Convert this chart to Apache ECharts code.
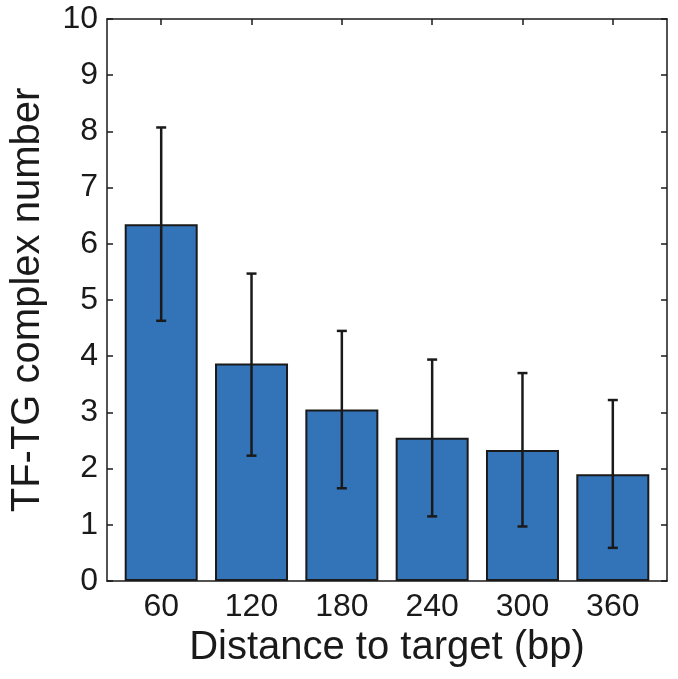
<!DOCTYPE html>
<html><head><meta charset="utf-8">
<script src="https://cdn.jsdelivr.net/npm/echarts@6/dist/echarts.min.js"></script>
<style>html,body{margin:0;padding:0;background:#fff}#c{width:678px;height:679px}</style>
</head><body><div id="c"></div>
<script>
const categories = ['60','120','180','240','300','360'];
const means = [6.35, 3.87, 3.05, 2.55, 2.33, 1.90];
const upper = [8.07, 5.47, 4.45, 3.94, 3.70, 3.22];
const lower = [4.63, 2.23, 1.65, 1.15, 0.97, 0.59];
const yTicks = [0,1,2,3,4,5,6,7,8,9,10];

const positions = categories.map((c,i)=>i+1);
const font = '"Liberation Sans", Arial, Helvetica, sans-serif';
const chart = echarts.init(document.getElementById('c'));
const lineStyle = {color:'#1a1a1a', width:1.5};
chart.setOption({
  animation:false,
  grid:{left:106, right:11, top:19, bottom:98},
  xAxis:[{
    type:'value', min:0.4, max:6.6, position:'bottom',
    name:'Distance to target (bp)', nameLocation:'middle', nameGap:46,
    nameTextStyle:{fontFamily:font, fontSize:40, color:'#1a1a1a'},
    axisLine:{show:true, onZero:false, lineStyle},
    axisTick:{show:true, inside:true, length:6, customValues:positions, lineStyle},
    axisLabel:{show:true, customValues:positions, fontFamily:font, fontSize:32, color:'#1a1a1a', margin:10,
      formatter:v=>categories[Math.round(v)-1]||''},
    splitLine:{show:false}
  },{
    type:'value', min:0.4, max:6.6, position:'top',
    axisLine:{show:true, onZero:false, lineStyle},
    axisTick:{show:true, inside:true, length:6, customValues:positions, lineStyle},
    axisLabel:{show:false}, splitLine:{show:false}
  }],
  yAxis:[{
    type:'value', min:0, max:10, interval:1, position:'left',
    name:'TF-TG complex number', nameLocation:'middle', nameGap:59,
    nameTextStyle:{fontFamily:font, fontSize:40, color:'#1a1a1a'},
    axisLine:{show:true, onZero:false, lineStyle},
    axisTick:{show:true, inside:true, length:6, lineStyle},
    axisLabel:{fontFamily:font, fontSize:32, color:'#1a1a1a', margin:9,
      customValues:yTicks, formatter:v=>String(v)},
    splitLine:{show:false}
  },{
    type:'value', min:0, max:10, interval:1, position:'right',
    axisLine:{show:true, onZero:false, lineStyle},
    axisTick:{show:true, inside:true, length:6, lineStyle},
    axisLabel:{show:false}, splitLine:{show:false}
  }],
  series:[{
    type:'bar', xAxisIndex:0, yAxisIndex:0, barWidth:73,
    data:means.map((m,i)=>[positions[i], m]),
    itemStyle:{color:'#3373B8', borderColor:'#1a1a1a', borderWidth:2}
  },{
    type:'custom', xAxisIndex:0, yAxisIndex:0, z:10,
    data:means.map((m,i)=>[positions[i], lower[i], upper[i]]),
    renderItem:(params, api)=>{
      const x = api.value(0);
      const lo = api.coord([x, api.value(1)]);
      const hi = api.coord([x, api.value(2)]);
      const w = 5;
      const st = {stroke:'#1a1a1a', lineWidth:2.5};
      return {type:'group', children:[
        {type:'line', shape:{x1:lo[0], y1:lo[1], x2:hi[0], y2:hi[1]}, style:st},
        {type:'line', shape:{x1:lo[0]-w, y1:lo[1], x2:lo[0]+w, y2:lo[1]}, style:st},
        {type:'line', shape:{x1:hi[0]-w, y1:hi[1], x2:hi[0]+w, y2:hi[1]}, style:st}
      ]};
    }
  }]
});
</script></body></html>
